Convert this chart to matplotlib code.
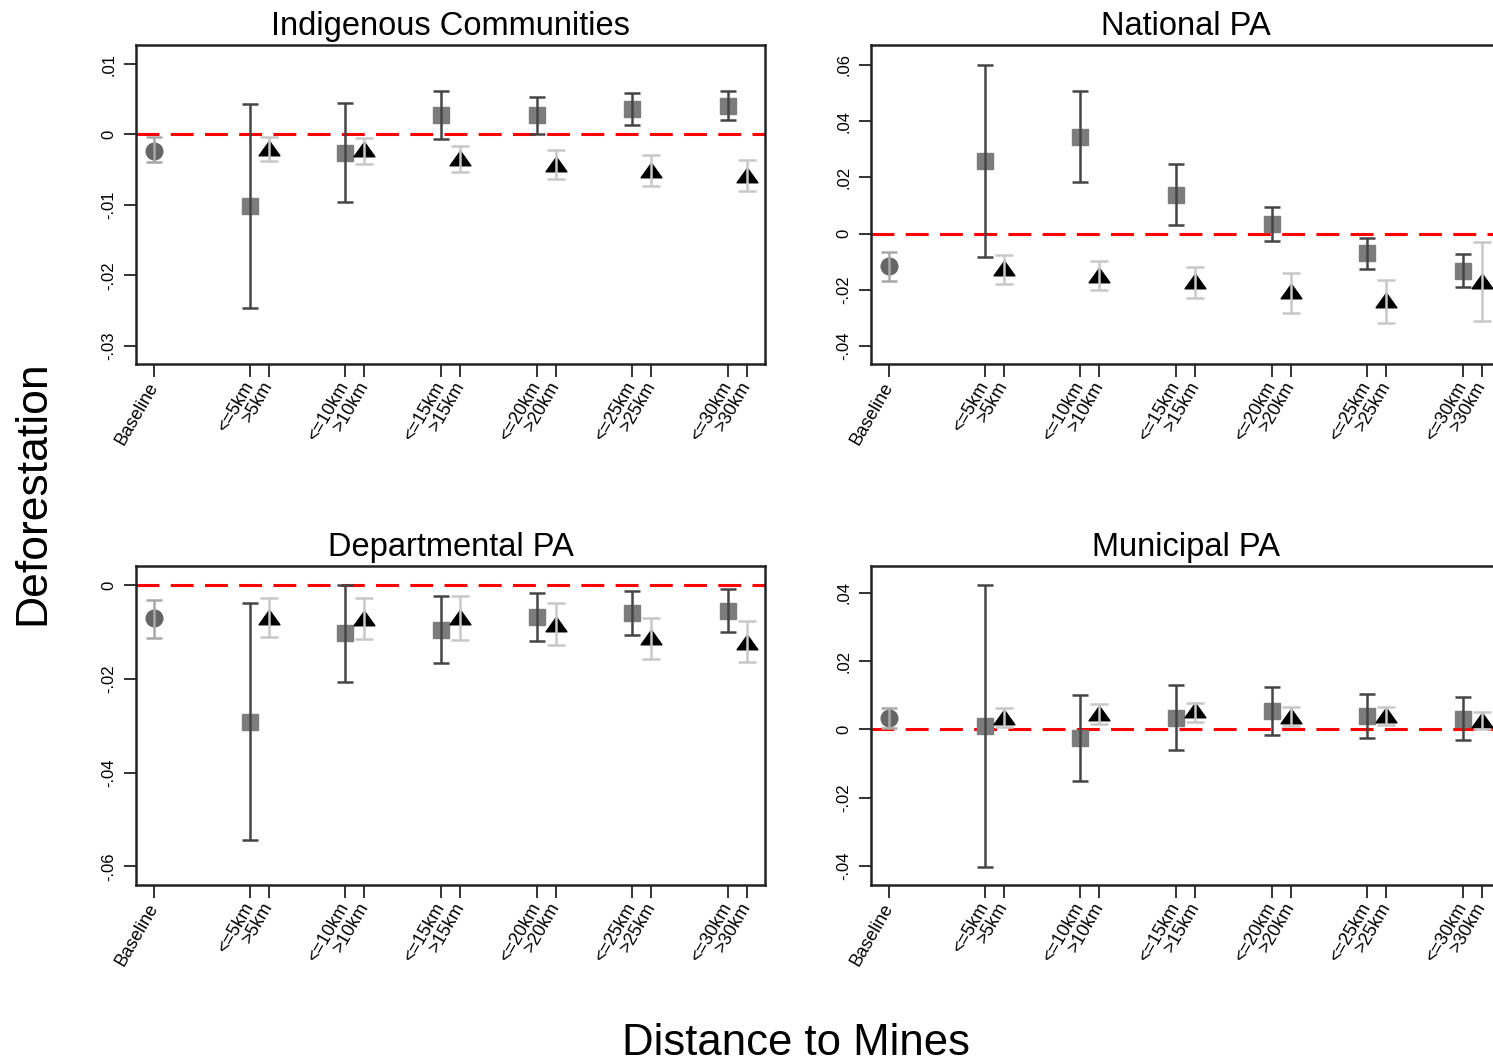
import numpy as np
import matplotlib
matplotlib.use("Agg")
import matplotlib.pyplot as plt
from matplotlib.path import Path

plt.rcParams['font.family'] = ['Liberation Sans', 'DejaVu Sans']

# distance bands (km)
dists = [5, 10, 15, 20, 25, 30]
near_labels = ['<=%dkm' % d for d in dists]
far_labels = ['>%dkm' % d for d in dists]

# Indigenous Communities
ind_base = [-0.0023, -0.0039, -0.0004]          # est, lo, hi
ind_near = [-0.0102, -0.0027, 0.0027, 0.0027, 0.0036, 0.0040]
ind_near_lo = [-0.0247, -0.0096, -0.0007, 0.0000, 0.0014, 0.0020]
ind_near_hi = [0.0043, 0.0044, 0.0061, 0.0053, 0.0059, 0.0062]
ind_far = [-0.0019, -0.0020, -0.0033, -0.0042, -0.0050, -0.0057]
ind_far_lo = [-0.0038, -0.0042, -0.0054, -0.0063, -0.0073, -0.0081]
ind_far_hi = [-0.0003, -0.0005, -0.0017, -0.0022, -0.0029, -0.0036]

# National PA
nat_base = [-0.0117, -0.0167, -0.0064]
nat_near = [0.0260, 0.0345, 0.0139, 0.0034, -0.0070, -0.0132]
nat_near_lo = [-0.0084, 0.0183, 0.0032, -0.0028, -0.0126, -0.0191]
nat_near_hi = [0.0601, 0.0509, 0.0246, 0.0096, -0.0015, -0.0072]
nat_far = [-0.0123, -0.0146, -0.0170, -0.0205, -0.0236, -0.0170]
nat_far_lo = [-0.0179, -0.0200, -0.0229, -0.0282, -0.0319, -0.0312]
nat_far_hi = [-0.0075, -0.0096, -0.0120, -0.0141, -0.0165, -0.0031]

# Departmental PA
dep_base = [-0.0071, -0.0112, -0.0031]
dep_near = [-0.0292, -0.0103, -0.0096, -0.0068, -0.0059, -0.0055]
dep_near_lo = [-0.0544, -0.0207, -0.0167, -0.0119, -0.0107, -0.0100]
dep_near_hi = [-0.0039, 0.0000, -0.0023, -0.0016, -0.0012, -0.0009]
dep_far = [-0.0068, -0.0069, -0.0068, -0.0082, -0.0110, -0.0121]
dep_far_lo = [-0.0110, -0.0115, -0.0116, -0.0128, -0.0157, -0.0164]
dep_far_hi = [-0.0028, -0.0027, -0.0023, -0.0038, -0.0069, -0.0076]

# Municipal PA
mun_base = [0.0033, 0.0004, 0.0062]
mun_near = [0.0010, -0.0025, 0.0034, 0.0054, 0.0040, 0.0031]
mun_near_lo = [-0.0404, -0.0150, -0.0059, -0.0017, -0.0025, -0.0032]
mun_near_hi = [0.0424, 0.0101, 0.0129, 0.0124, 0.0105, 0.0095]
mun_far = [0.0036, 0.0049, 0.0056, 0.0038, 0.0041, 0.0028]
mun_far_lo = [0.0007, 0.0017, 0.0023, 0.0011, 0.0014, 0.0002]
mun_far_hi = [0.0064, 0.0075, 0.0078, 0.0065, 0.0065, 0.0051]

panels = [
    ("Indigenous Communities", ind_base, ind_near, ind_near_lo, ind_near_hi,
     ind_far, ind_far_lo, ind_far_hi, (-0.0326, 0.0127), [-0.03, -0.02, -0.01, 0, 0.01]),
    ("National PA", nat_base, nat_near, nat_near_lo, nat_near_hi,
     nat_far, nat_far_lo, nat_far_hi, (-0.0464, 0.0671), [-0.04, -0.02, 0, 0.02, 0.04, 0.06]),
    ("Departmental PA", dep_base, dep_near, dep_near_lo, dep_near_hi,
     dep_far, dep_far_lo, dep_far_hi, (-0.064, 0.0041), [-0.06, -0.04, -0.02, 0]),
    ("Municipal PA", mun_base, mun_near, mun_near_lo, mun_near_hi,
     mun_far, mun_far_lo, mun_far_hi, (-0.0456, 0.0479), [-0.04, -0.02, 0, 0.02, 0.04]),
]

W, H = 1493, 1063
fig = plt.figure(figsize=(W / 100, H / 100), dpi=100)

# axes boxes in pixels: left, top
boxes = [(136, 45), (871, 45), (136, 566), (871, 566)]
aw, ah = 629, 319

tri = Path([(-1, -0.7), (1, -0.7), (0, 0.7), (-1, -0.7)],
           [Path.MOVETO, Path.LINETO, Path.LINETO, Path.CLOSEPOLY])


def fmt(v):
    if v == 0:
        return '0'
    return ('%.2f' % v).replace('0.', '.')


for (title, base, near, nlo, nhi, far, flo, fhi, ylim, yt), (lx, ty) in zip(panels, boxes):
    ax = fig.add_axes([lx / W, 1 - (ty + ah) / H, aw / W, ah / H])
    xn = np.arange(1, 7)
    xf = xn + 0.2
    near = np.array(near); far = np.array(far)

    ax.axhline(0, color='red', lw=2.2, dashes=(7.5, 3.7), zorder=1)

    # baseline
    ax.plot([0], [base[0]], 'o', ms=12, color='#666666', zorder=2)
    ax.errorbar([0], [base[0]], yerr=[[base[0] - base[1]], [base[2] - base[0]]],
                fmt='none', ecolor='#a8a8a8', elinewidth=1.8, capsize=5.8,
                capthick=1.8, zorder=3)
    # near
    ax.plot(xn, near, 's', ms=11.5, color='#7c7c7c', zorder=2)
    ax.errorbar(xn, near, yerr=[near - np.array(nlo), np.array(nhi) - near],
                fmt='none', ecolor='#454545', elinewidth=1.8, capsize=5.8,
                capthick=1.8, zorder=3)
    # far
    ax.plot(xf, far, marker=tri, ls='none', ms=15, color='black', zorder=2)
    ax.errorbar(xf, far, yerr=[far - np.array(flo), np.array(fhi) - far],
                fmt='none', ecolor='#c8c8c8', elinewidth=1.8, capsize=6.3,
                capthick=1.8, zorder=3)

    ax.set_xlim(-0.19, 6.39)
    ax.set_ylim(*ylim)
    ax.set_yticks(yt)
    ax.set_yticklabels([fmt(v) for v in yt], fontsize=12)
    for lab in ax.get_yticklabels():
        lab.set_rotation(90)
        lab.set_va('center')

    xt = [0]
    xl = ['Baseline']
    for k in range(6):
        xt += [xn[k], xf[k]]
        xl += [near_labels[k], far_labels[k]]
    ax.set_xticks(xt)
    ax.set_xticklabels(xl, fontsize=13, rotation=60, ha='right', va='center',
                       rotation_mode='anchor')

    ax.tick_params(axis='both', direction='out', length=9, width=1.3, color='#222222')
    ax.tick_params(axis='y', pad=5)
    ax.tick_params(axis='x', pad=5)
    for s in ax.spines.values():
        s.set_linewidth(1.8)
        s.set_color('#222222')

    fig.text((lx + aw / 2) / W, 1 - (ty - 10) / H, title, fontsize=23.5,
             ha='center', va='baseline')

fig.text(33 / W, 1 - 493 / H, 'Deforestation', fontsize=32, rotation=90,
         ha='center', va='center')
fig.text(796 / W, 1 - 1055 / H, 'Distance to Mines', fontsize=31.5,
         ha='center', va='baseline')

fig.savefig('out.png', dpi=100)
